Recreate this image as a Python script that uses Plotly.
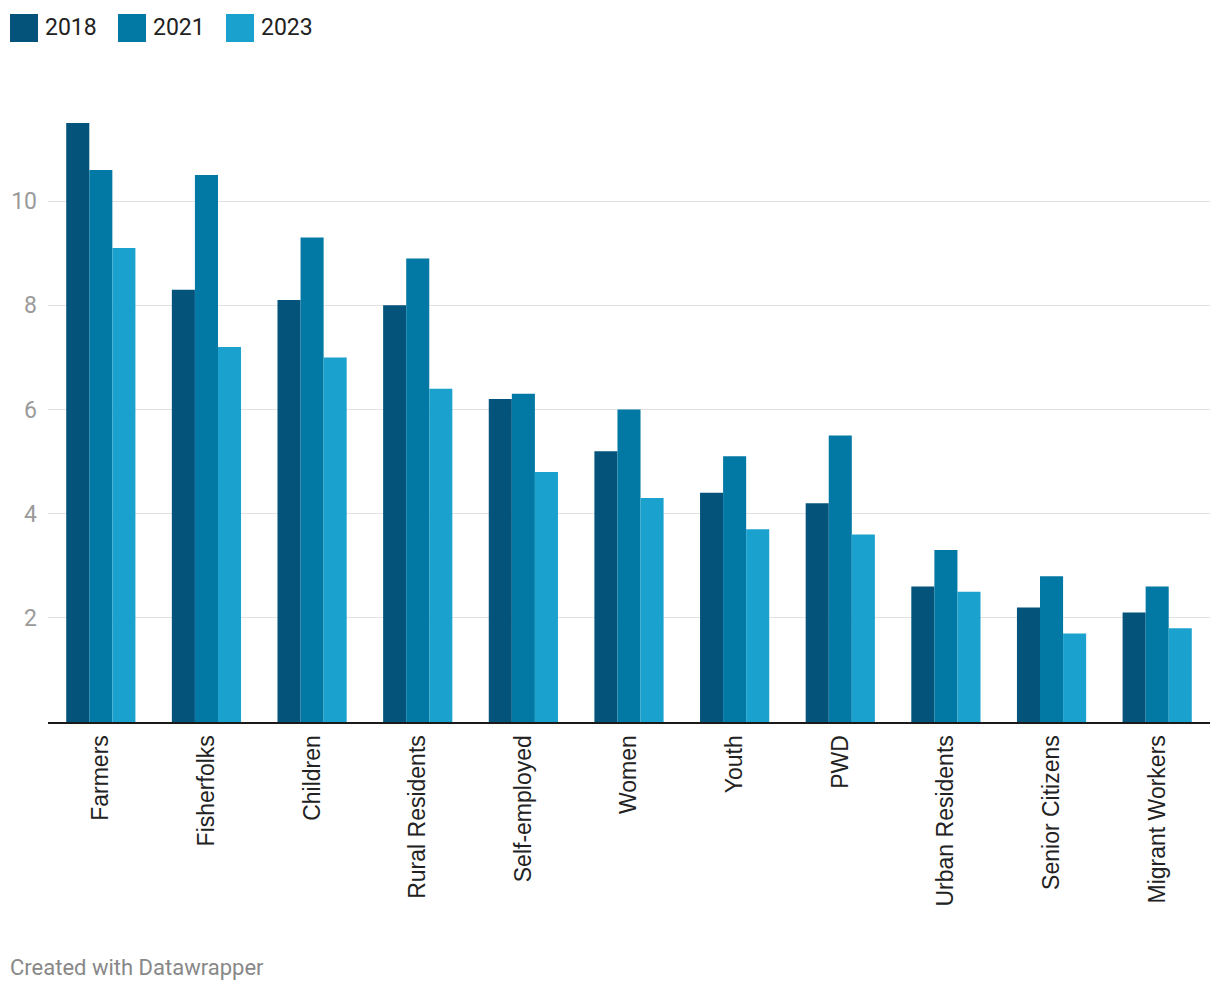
import plotly.graph_objects as go

categories = ["Farmers", "Fisherfolks", "Children", "Rural Residents", "Self-employed",
              "Women", "Youth", "PWD", "Urban Residents", "Senior Citizens", "Migrant Workers"]
v2018 = [11.5, 8.3, 8.1, 8.0, 6.2, 5.2, 4.4, 4.2, 2.6, 2.2, 2.1]
v2021 = [10.6, 10.5, 9.3, 8.9, 6.3, 6.0, 5.1, 5.5, 3.3, 2.8, 2.6]
v2023 = [9.1, 7.2, 7.0, 6.4, 4.8, 4.3, 3.7, 3.6, 2.5, 1.7, 1.8]
series = [("2018", v2018, "#03537b"), ("2021", v2021, "#0278a4"), ("2023", v2023, "#1aa1cd")]
yticks = [2, 4, 6, 8, 10]

OFF = 8  # page body margin
W, H = 1220 - OFF, 992 - OFF
L, R, T, B = 48 - OFF, 10, 123 - OFF, 992 - 722
pw, ph = W - L - R, H - T - B

def px_x(x):
    return (x - OFF - L) / pw

def px_y(y):
    return (H - B - (y - OFF)) / ph

fig = go.Figure()
for name, vals, col in series:
    fig.add_trace(go.Bar(x=categories, y=vals, name=name, marker_color=col,
                         marker_line_width=0, showlegend=False))

fig.update_layout(
    width=W, height=H,
    margin=dict(l=L, r=R, t=T, b=B, autoexpand=False),
    paper_bgcolor="white", plot_bgcolor="white",
    barmode="group", bargap=0.345, bargroupgap=0,
    font=dict(family="Roboto", size=20, color="#222"),
    showlegend=False,
    xaxis=dict(showgrid=False, tickangle=-90, automargin=False,
               tickfont=dict(family="Liberation Sans", size=23, color="#222"),
               showline=True, linecolor="#1a1a1a", linewidth=2, ticks="", ticklabelstandoff=2),
    yaxis=dict(range=[0, 11.5], tickvals=yticks, showgrid=True, gridcolor="#e2e2e2", gridwidth=1,
               automargin=False,
               tickfont=dict(family="Roboto", size=23, color="#9a9a9a"), zeroline=False,
               ticks="", ticklabelstandoff=10),
)

# legend drawn as swatches + labels
leg_x = [10, 118, 226]
for (name, vals, col), lx in zip(series, leg_x):
    fig.add_shape(type="rect", xref="paper", yref="paper",
                  x0=px_x(lx), x1=px_x(lx + 28), y0=px_y(42), y1=px_y(14),
                  fillcolor=col, line_width=0)
    fig.add_annotation(text=name, xref="paper", yref="paper", x=px_x(lx + 33), y=px_y(28),
                       xanchor="left", yanchor="middle", showarrow=False,
                       font=dict(family="Roboto", size=23, color="#222"))

fig.add_annotation(text="Created with Datawrapper", xref="paper", yref="paper",
                   x=px_x(8), y=px_y(967), xanchor="left", yanchor="middle",
                   showarrow=False, font=dict(family="Roboto", size=22, color="#888"))
fig.write_html("out.html")
